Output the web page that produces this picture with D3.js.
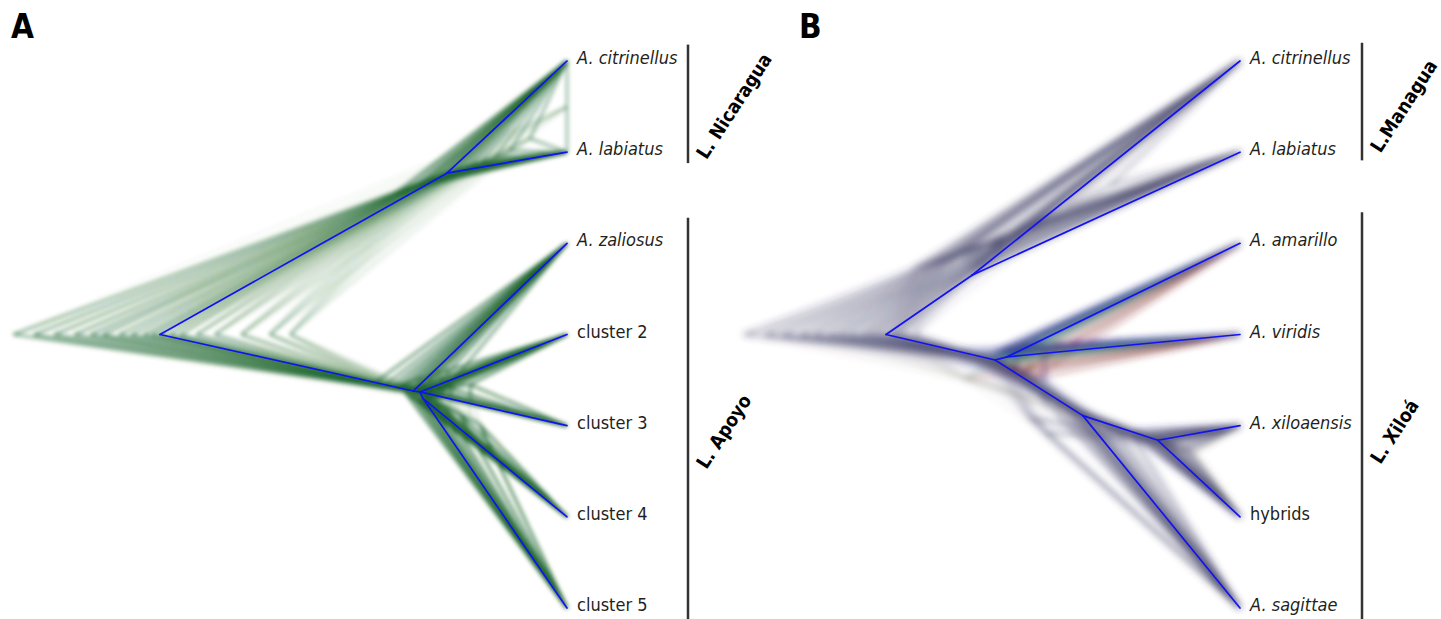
<!DOCTYPE html>
<html>
<head>
<meta charset="utf-8">
<title>DensiTree A / B</title>
<script src="https://d3js.org/d3.v7.min.js"></script>
<style>
  body { margin: 0; background: #fff; }
  svg { display: block; }
  .tip { font-family: "Liberation Sans Narrow", "DejaVu Sans Condensed", "Open Sans", sans-serif; font-size: 18px; fill: #231f20; }
  .tip.sp { font-style: italic; }
  .lake { font-family: "Liberation Sans Narrow", "DejaVu Sans Condensed", sans-serif; font-weight: bold; font-size: 19px; fill: #000; }
  .panel { font-family: "Liberation Sans Narrow", "DejaVu Sans Condensed", sans-serif; font-weight: bold; font-size: 33px; fill: #000; }
  .bar { stroke: #333; stroke-width: 2.5; }
  .cons { fill: none; stroke: #1212f2; stroke-width: 1.7; stroke-linecap: round; }
</style>
</head>
<body>
<svg width="1441" height="619">
  <defs>
    <filter id="blurA" x="-5%" y="-5%" width="110%" height="110%"><feGaussianBlur stdDeviation="2.2"/></filter>
    <filter id="blurB" x="-5%" y="-5%" width="110%" height="110%"><feGaussianBlur stdDeviation="3.6"/></filter>
  </defs>
</svg>
<script>
// ---------- panel A: L. Nicaragua / L. Apoyo ----------
const tipsA = ["A. citrinellus", "A. labiatus", "A. zaliosus", "cluster 2", "cluster 3", "cluster 4", "cluster 5"];
const lakesA = [["L. Nicaragua", -0.18, 1.12], ["L. Apoyo", 1.72, 6.3]];
// consensus nodes: [age (root = 1), position in tip units]
const consA = { root: [1, 3.0], nic: [0.295, 1.23], apo: [0.378, 3.62], a1: [0.361, 3.63], a2: [0.354, 3.70] };
const edgesA = [["root", "nic"], ["nic", 0], ["nic", 1], ["root", "apo"], ["apo", 2], ["apo", "a1"],
                ["a1", 3], ["a1", 4], ["a1", "a2"], ["a2", 5], ["a2", 6]];
// node ages / positions
const rootAgeA = [1.36, 1.31, 1.26, 1.21, 1.17, 1.14, 1.1, 1.07, 1.04, 1.02, 1.0, 0.975, 0.95, 0.91, 0.865, 0.8, 0.73, 0.68];
const rootPosA = [3.0];
const nicAgeA = [0.423, 0.398, 0.373, 0.356, 0.342, 0.329, 0.317, 0.307, 0.297, 0.287, 0.275, 0.263, 0.248, 0.231, 0.209, 0.177, 0.14, 0.091, 0.0];
const nicPosA = [1.45, 1.4, 1.36, 1.33, 1.3, 1.28, 1.26, 1.25, 1.23, 1.22, 1.2, 1.18, 1.16, 1.13, 1.1, 1.05, 0.98, 0.85, 0.5];
const apoAgeA = [0.479, 0.455, 0.435, 0.42, 0.408, 0.398, 0.388, 0.381, 0.373, 0.366, 0.356, 0.342, 0.317];
const apoPosA = [3.55, 3.58, 3.59, 3.6, 3.61, 3.61, 3.62, 3.62, 3.63, 3.63, 3.64, 3.66, 3.7];
const a1AgeA = [0.41, 0.386, 0.373, 0.366, 0.361, 0.356, 0.349, 0.337, 0.317, 0.287, 0.238];
const a1PosA = [3.55, 3.59, 3.61, 3.62, 3.63, 3.64, 3.64, 3.63, 3.61, 3.59, 3.55];
const a2AgeA = [0.398, 0.381, 0.366, 0.354, 0.342, 0.324, 0.3, 0.263, 0.214];
const a2PosA = [3.63, 3.66, 3.69, 3.7, 3.72, 3.75, 3.81, 3.88, 3.99];
const colorsA = ["#15692e"];

// ---------- panel B: L. Managua / L. Xiloá ----------
const tipsB = ["A. citrinellus", "A. labiatus", "A. amarillo", "A. viridis", "A. xiloaensis", "hybrids", "A. sagittae"];
const lakesB = [["L.Managua", -0.2, 1.09], ["L. Xiloá", 1.66, 6.3]];
const consB = { root: [1, 3.0], man: [0.757, 2.35], xil: [0.692, 3.28], av: [0.658, 3.245], xs: [0.444, 3.89], xh: [0.232, 4.16] };
const edgesB = [["root", "man"], ["man", 0], ["man", 1], ["root", "xil"], ["xil", "av"], ["av", 2], ["av", 3],
                ["xil", "xs"], ["xs", 6], ["xs", "xh"], ["xh", 4], ["xh", 5]];
const rootAgeB = [1.4, 1.34, 1.29, 1.24, 1.2, 1.16, 1.13, 1.1, 1.07, 1.05, 1.03, 1.01, 0.99, 0.98, 0.97, 0.95, 0.92];
const rootPosB = [3.0];
const manAgeB = [0.918, 0.89, 0.87, 0.847, 0.831, 0.814, 0.799, 0.785, 0.771, 0.76, 0.749, 0.734, 0.718, 0.698, 0.672, 0.636, 0.579, 0.494, 0.367];
const manPosB = [2.27, 2.249, 2.227, 2.205, 2.183, 2.161, 2.139, 2.205, 2.27, 2.336, 2.292, 2.205, 2.128, 2.051, 1.963, 1.876, 1.766, 1.612, 1.36];
const xilAgeB = [0.819, 0.777, 0.749, 0.729, 0.712, 0.701, 0.692, 0.684, 0.672, 0.655, 0.633, 0.599, 0.551, 0.777];
const xilPosB = [3.17, 3.2, 3.225, 3.247, 3.258, 3.269, 3.28, 3.29, 3.3, 3.325, 3.356, 3.41, 3.5, 3.477];
const avAgeB = [0.678, 0.621, 0.644, 0.664, 0.658, 0.588, 0.692, 0.636, 0.667, 0.644, 0.621, 0.684, 0.653, 0.605, 0.672, 0.65];
const avPosB = [3.17, 3.411, 3.148, 3.258, 3.225, 3.477, 3.192, 3.3, 3.203, 3.346, 3.126, 3.236, 3.247, 3.39, 3.159, 3.28];
const xsAgeB = [0.565, 0.523, 0.494, 0.475, 0.458, 0.444, 0.429, 0.41, 0.381, 0.345, 0.297, 0.593, 0.551];
const xsPosB = [3.663, 3.74, 3.795, 3.839, 3.872, 3.894, 3.916, 3.949, 4.0, 4.07, 4.157, 3.916, 4.07];
const xhAgeB = [0.316, 0.294, 0.277, 0.263, 0.251, 0.243, 0.234, 0.226, 0.218, 0.206, 0.192, 0.169, 0.155, 0.136];
const xhPosB = [4.058, 4.091, 4.113, 4.124, 4.135, 4.146, 4.157, 4.168, 4.179, 4.19, 4.212, 4.245, 4.26, 4.289];
const colorsB = ["#3a3490", "#9a3040", "#3a3490", "#3d8a70"];

const svg = d3.select("svg");

function drawPanel(cfg) {
  const x = d3.scaleLinear().domain([0, 1]).range([cfg.tipX, cfg.rootX]);
  const y = d3.scaleLinear().domain([0, cfg.tips.length - 1]).range([61, 608]);
  const g = svg.append("g");

  // tree cloud: tree k takes sample k of every node list
  const segs = [];
  for (let k = 0; k < cfg.nTrees; k++) {
    const pt = {};
    for (const id in cfg.samples) {
      const s = cfg.samples[id];
      pt[id] = [s[0][k % s[0].length], s[1][k % s[1].length]];
    }
    cfg.edges.forEach(([p, c]) => {
      const a = pt[p];
      const b = typeof c === "number" ? [0, c] : pt[c];
      segs.push({ a, b: [Math.min(a[0], b[0]), b[1]], color: cfg.colors[k % cfg.colors.length] });
    });
  }
  g.append("g").attr("class", "cloud").attr("filter", `url(#${cfg.blur})`)
    .selectAll("line").data(segs).join("line")
    .attr("x1", d => x(d.a[0])).attr("y1", d => y(d.a[1]))
    .attr("x2", d => x(d.b[0])).attr("y2", d => y(d.b[1]))
    .attr("stroke", d => d.color)
    .attr("stroke-width", cfg.lineW)
    .attr("stroke-opacity", cfg.alpha);

  // consensus tree
  g.selectAll("line.cons").data(cfg.edges).join("line")
    .attr("class", "cons")
    .attr("x1", d => x(cfg.cons[d[0]][0])).attr("y1", d => y(cfg.cons[d[0]][1]))
    .attr("x2", d => typeof d[1] === "number" ? x(0) : x(cfg.cons[d[1]][0]))
    .attr("y2", d => typeof d[1] === "number" ? y(d[1]) : y(cfg.cons[d[1]][1]));

  // tip labels
  g.selectAll("text.tip").data(cfg.tips).join("text")
    .attr("class", d => d.startsWith("A.") ? "tip sp" : "tip")
    .attr("x", x(0) + 10).attr("y", (d, i) => y(i) - 2)
    .attr("dominant-baseline", "middle")
    .text(d => d);

  // lake bars and labels
  cfg.lakes.forEach(([name, p0, p1]) => {
    g.append("line").attr("class", "bar")
      .attr("x1", cfg.barX).attr("x2", cfg.barX)
      .attr("y1", y(p0)).attr("y2", y(p1));
  });
  cfg.lakes.forEach(([name, p0, p1], i) => {
    const t = g.append("text").attr("class", "lake")
      .attr("text-anchor", "middle").attr("dominant-baseline", "middle").text(name);
    const len = t.node().getComputedTextLength();
    const cy = y(i === 0 ? 0.5 : 4.07);
    const cx = cfg.barX + 14 + len / 2 * Math.cos(57 * Math.PI / 180);
    t.attr("transform", `translate(${cx},${cy}) rotate(-57)`);
  });

  svg.append("text").attr("class", "panel")
    .attr("x", cfg.labelX).attr("y", 38).text(cfg.label);
}

drawPanel({
  label: "A", labelX: 11, tipX: 567, rootX: 160, barX: 688, blur: "blurA", alpha: 0.04, lineW: 2.5, nTrees: 342,
  tips: tipsA, lakes: lakesA, cons: consA, edges: edgesA, colors: colorsA,
  samples: { root: [rootAgeA, rootPosA], nic: [nicAgeA, nicPosA], apo: [apoAgeA, apoPosA], a1: [a1AgeA, a1PosA], a2: [a2AgeA, a2PosA] }
});
drawPanel({
  label: "B", labelX: 799, tipX: 1240, rootX: 886, barX: 1362, blur: "blurB", alpha: 0.035, lineW: 2.8, nTrees: 323,
  tips: tipsB, lakes: lakesB, cons: consB, edges: edgesB, colors: colorsB,
  samples: { root: [rootAgeB, rootPosB], man: [manAgeB, manPosB], xil: [xilAgeB, xilPosB], av: [avAgeB, avPosB], xs: [xsAgeB, xsPosB], xh: [xhAgeB, xhPosB] }
});
</script>
</body>
</html>
